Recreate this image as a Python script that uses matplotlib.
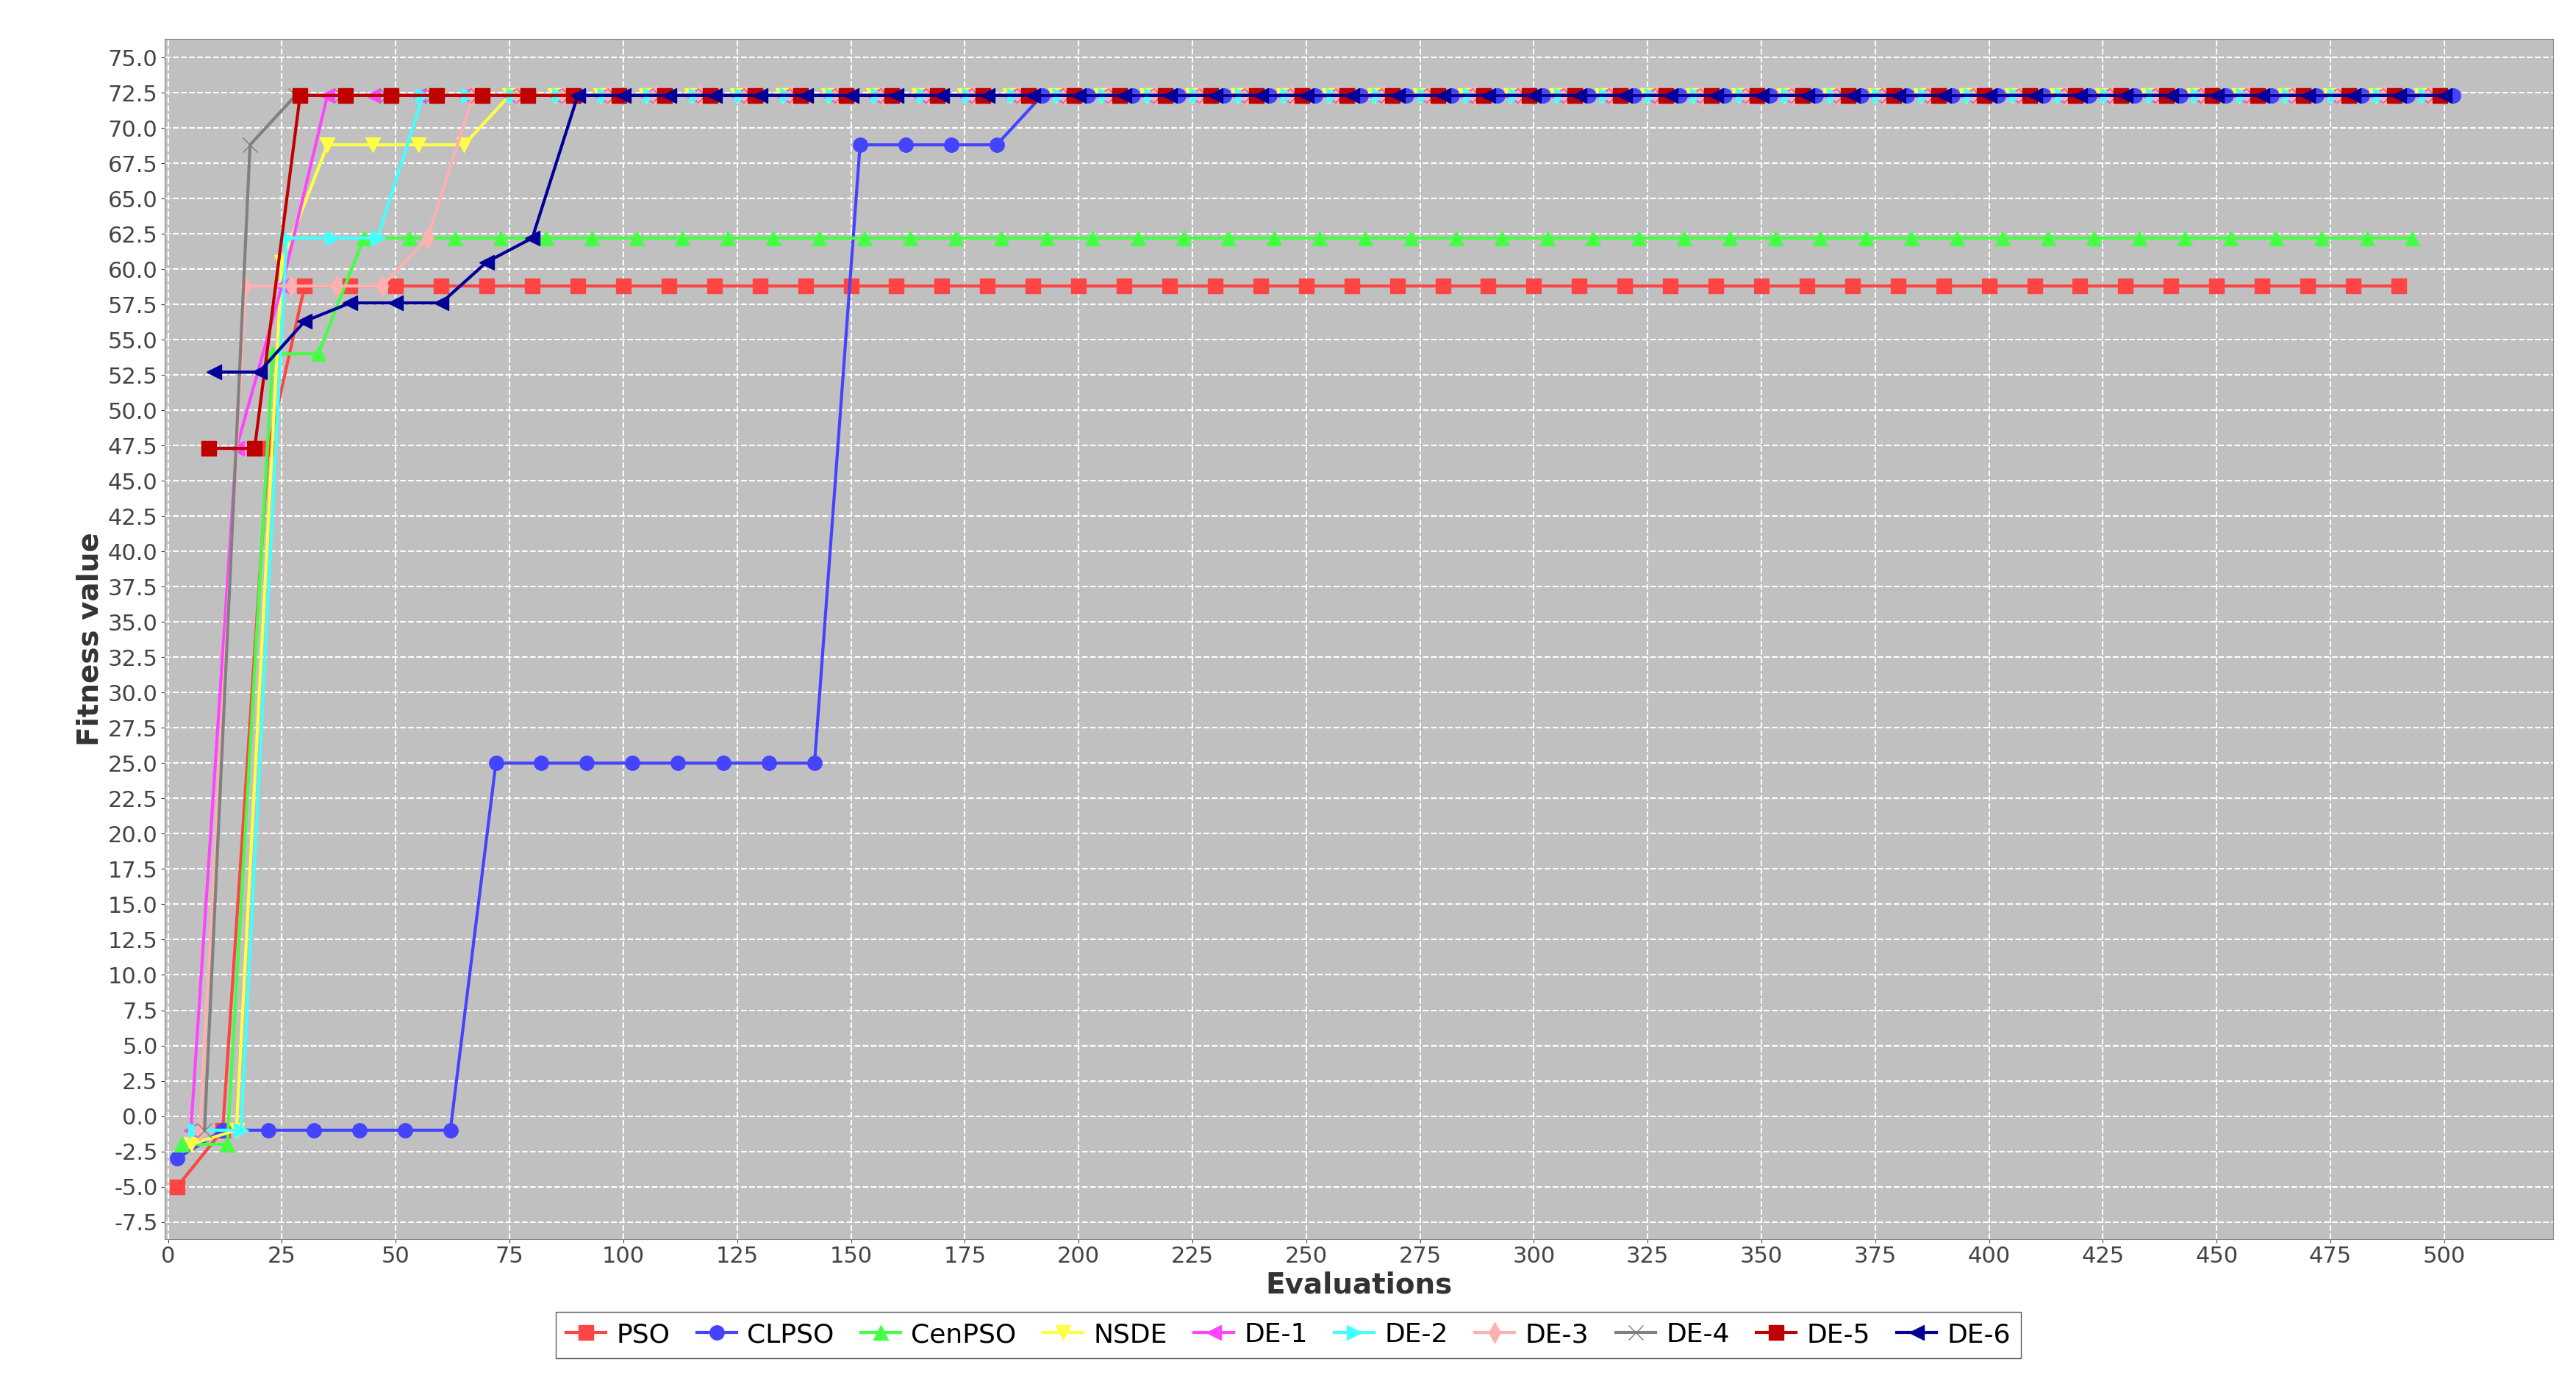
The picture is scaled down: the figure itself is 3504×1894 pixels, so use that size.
import matplotlib
matplotlib.use("Agg")
import matplotlib.pyplot as plt
import numpy as np

names = ["PSO","CLPSO","CenPSO","NSDE","DE-1","DE-2","DE-3","DE-4","DE-5","DE-6"]
colors = ["#ff4444","#4444ff","#44ff44","#ffff44","#ff44ff","#44ffff","#ffb0b0","#808080","#c00000","#000099"]
markers = ["s","o","^","v","<",">","d","x","s","<"]

pso_x = [2,12,22,30] + list(range(40,500,10))
pso_y = [-5,-1,47.3,58.8] + [58.8]*len(range(40,500,10))
cl_x = [2,12,22,32,42,52,62,72,82,92,102,112,122,132,142,152,162,172,182] + list(range(192,503,10))
cl_y = [-3,-1,-1,-1,-1,-1,-1,25,25,25,25,25,25,25,25,68.8,68.8,68.8,68.8] + [72.3]*len(range(192,503,10))
cen_x = [3,13,23,33] + list(range(43,500,10))
cen_y = [-2,-2,54,54] + [62.2]*len(range(43,500,10))
ns_x = [5,15,25,35,45,55,65] + list(range(75,503,10))
ns_y = [-2,-1,60.5,68.8,68.8,68.8,68.8] + [72.3]*len(range(75,503,10))
d1_x = [5,15,25] + list(range(35,503,10))
d1_y = [-1,47.3,58.8] + [72.3]*len(range(35,503,10))
d2_x = [6,16,26,36,46] + list(range(56,503,10))
d2_y = [-1,-1,62.2,62.2,62.2] + [72.3]*len(range(56,503,10))
d3_x = [7,17,27,37,47,57] + list(range(67,503,10))
d3_y = [-1,58.8,58.8,58.8,58.8,62.2] + [72.3]*len(range(67,503,10))
d4_x = [8,18] + list(range(28,503,10))
d4_y = [-1,68.8] + [72.3]*len(range(28,503,10))
d5_x = [9,19] + list(range(29,503,10))
d5_y = [47.3,47.3] + [72.3]*len(range(29,503,10))
d6_x = [10,20,30,40,50,60,70,80] + list(range(90,503,10))
d6_y = [52.7,52.7,56.3,57.6,57.6,57.6,60.5,62.2] + [72.3]*len(range(90,503,10))

xs = [pso_x,cl_x,cen_x,ns_x,d1_x,d2_x,d3_x,d4_x,d5_x,d6_x]
ys = [pso_y,cl_y,cen_y,ns_y,d1_y,d2_y,d3_y,d4_y,d5_y,d6_y]

fig = plt.figure(figsize=(35.05,18.94), dpi=100)
ax = fig.add_axes([0.064, 0.11, 0.927, 0.862])
ax.set_facecolor("#c0c0c0")
for n,c,m,x,y in zip(names,colors,markers,xs,ys):
    ax.plot(x,y,color=c,marker=m,markersize=14,linewidth=3,label=n)
ax.set_xlim(-0.7,524)
ax.set_ylim(-8.7,76.3)
ax.set_xticks(np.arange(0,501,25))
ax.set_yticks(np.arange(-7.5,75.1,2.5))
ax.set_yticklabels([f"{v:.1f}" for v in np.arange(-7.5,75.1,2.5)])
ax.tick_params(labelsize=22, colors="#444444")
ax.grid(True, color="white", linestyle="--", linewidth=1.5)
ax.set_xlabel("Evaluations", fontsize=28, fontweight="bold", color="#333333")
ax.set_ylabel("Fitness value", fontsize=28, fontweight="bold", color="#333333")
for s in ax.spines.values():
    s.set_color("#888888")
leg = fig.legend(loc="lower center", bbox_to_anchor=(0.5,0.015), ncol=10, fontsize=26,
                 frameon=True, fancybox=False, edgecolor="#333333", handlelength=1.5,
                 columnspacing=1.0, handletextpad=0.4)
fig.savefig("out.png", dpi=100)
